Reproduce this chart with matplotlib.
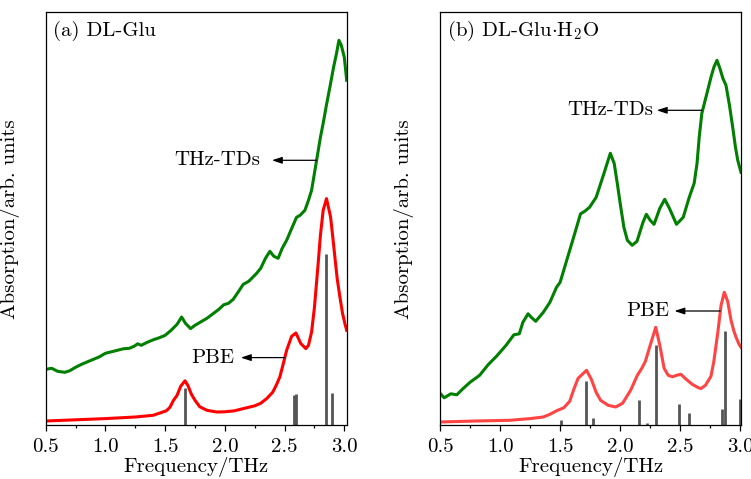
import matplotlib
matplotlib.use("Agg")
import matplotlib.pyplot as plt
import numpy as np

plt.rcParams['font.family'] = ['cmr10', 'DejaVu Serif']
plt.rcParams['mathtext.fontset'] = 'cm'
plt.rcParams['axes.formatter.use_mathtext'] = True

# ---------------- data: panel (a) DL-Glu ----------------
a_thz_f = [0.50, 0.55, 0.60, 0.66, 0.70, 0.75, 0.80, 0.85, 0.90, 0.95, 1.00, 1.05,
           1.10, 1.15, 1.20, 1.24, 1.27, 1.30, 1.35, 1.40, 1.45, 1.50, 1.55, 1.60,
           1.638, 1.67, 1.713, 1.75, 1.80, 1.85, 1.90, 1.95, 1.99, 2.03, 2.07, 2.11,
           2.154, 2.20, 2.266, 2.30, 2.34, 2.377, 2.41, 2.446, 2.48, 2.517, 2.56,
           2.60, 2.63, 2.67, 2.70, 2.726, 2.768, 2.80, 2.823, 2.85, 2.879, 2.91,
           2.935, 2.955, 2.975, 3.00, 3.02]
a_thz_y = [56, 57, 54, 53, 54.5, 58, 61, 63.5, 66, 68.5, 72, 73.5,
           75, 76.5, 77, 79, 81.5, 80, 83, 85.5, 87.5, 90, 95, 101,
           108.3, 102, 96.7, 100, 103.5, 107, 111.5, 116, 120.5, 122, 126, 133,
           141, 144, 152, 157, 167, 174, 169, 167, 177, 185, 197,
           208, 210, 215, 225, 235, 265, 288, 302, 320, 338, 358,
           372, 385, 380, 368, 345]

a_pbe_f = [0.50, 0.75, 1.00, 1.25, 1.40, 1.51, 1.54, 1.57, 1.60, 1.63, 1.666, 1.69,
           1.72, 1.75, 1.79, 1.85, 1.93, 2.00, 2.08, 2.154, 2.25, 2.30, 2.35, 2.40,
           2.43, 2.46, 2.49, 2.517, 2.559, 2.595, 2.636, 2.678, 2.70, 2.726, 2.75,
           2.781, 2.80, 2.823, 2.851, 2.885, 2.90, 2.921, 2.94, 2.963, 2.985, 3.005, 3.02]
a_pbe_y = [4.3, 5.5, 6.7, 8.3, 10, 14.5, 18, 25, 30, 39, 44.5, 40,
           31, 25, 18.5, 15, 13.3, 13.5, 14.5, 16.7, 19.5, 22, 26.7, 33,
           40, 48.3, 62, 75, 89, 92.3, 81.7, 76.7, 80, 93.3, 118,
           161.7, 190, 215, 226.7, 208.3, 192, 168.3, 147, 128.3, 112, 101.7, 95]

a_stick_f = [1.666, 2.58, 2.595, 2.846, 2.893]
a_stick_y = [37, 30, 31, 171, 32]

# ---------------- data: panel (b) DL-Glu·H2O ----------------
b_thz_f = [0.50, 0.535, 0.59, 0.64, 0.69, 0.75, 0.83, 0.90, 0.97, 1.05, 1.115, 1.16,
           1.19, 1.233, 1.26, 1.297, 1.36, 1.415, 1.47, 1.50, 1.555, 1.61, 1.67,
           1.705, 1.745, 1.80, 1.86, 1.918, 1.95, 1.976, 2.00, 2.031, 2.06, 2.10,
           2.14, 2.19, 2.218, 2.25, 2.282, 2.33, 2.371, 2.41, 2.469, 2.525, 2.575,
           2.616, 2.64, 2.658, 2.68, 2.714, 2.756, 2.78, 2.806, 2.83, 2.855, 2.881,
           2.91, 2.937, 2.96, 2.979, 3.006]
b_thz_y = [32, 27.5, 31.5, 30.5, 36.5, 43, 50, 60.5, 69, 80, 90.5, 91.5,
           103, 111.5, 108, 104, 113, 123, 138, 143, 165, 187, 211.5,
           214, 218, 228, 250, 272, 262, 242, 222, 198, 185, 180,
           184, 203, 211, 205, 201, 217, 226, 217, 201, 208, 228,
           242, 262, 288, 312, 328, 348, 358, 365, 357, 347, 340,
           320, 298, 278, 265, 253]

b_pbe_f = [0.50, 0.80, 1.08, 1.25, 1.36, 1.415, 1.47, 1.53, 1.58, 1.614, 1.65, 1.72,
           1.76, 1.80, 1.837, 1.90, 1.962, 2.02, 2.087, 2.143, 2.18, 2.21, 2.25,
           2.296, 2.33, 2.366, 2.40, 2.436, 2.47, 2.505, 2.55, 2.60, 2.644, 2.672,
           2.71, 2.756, 2.78, 2.812, 2.84, 2.867, 2.895, 2.923, 2.945, 2.965, 2.99, 3.006]
b_pbe_y = [3.3, 4.3, 5, 6.7, 8.3, 11, 14.5, 17.5, 24, 36, 47, 55,
           46, 33, 25, 20, 18.3, 22, 35, 50, 57, 64, 80,
           98, 80, 57, 50, 48.5, 50, 51, 46, 41, 38, 36.7,
           40, 49, 64, 92, 120, 133, 124, 105, 95, 88, 81, 78]

b_stick_f = [1.508, 1.714, 1.772, 2.157, 2.221, 2.296, 2.491, 2.574, 2.845, 2.873, 2.998]
b_stick_y = [5, 44, 7, 25, 2.5, 80.5, 21.5, 12.5, 16, 94, 26]

xticks = [0.5, 1.0, 1.5, 2.0, 2.5, 3.0]
xtick_labels = ['0.5', '1.0', '1.5', '2.0', '2.5', '3.0']

# ---------------- figure ----------------
W, H = 751, 479
fig = plt.figure(figsize=(W / 100, H / 100), dpi=100)

ax_a = fig.add_axes([45.7 / W, 1 - 425.3 / H, 301 / W, 413 / H])
ax_b = fig.add_axes([440 / W, 1 - 425.3 / H, 301 / W, 413 / H])

green = '#007f00'
fs = 15


def style(ax, xmax):
    ax.set_xlim(0.5, xmax)
    ax.set_ylim(0, 413)
    ax.set_yticks([])
    ax.set_xticks(xticks)
    ax.set_xticklabels(xtick_labels)
    ax.set_xticks([0.75, 1.25, 1.75, 2.25, 2.75], minor=True)
    ax.tick_params(axis='x', which='major', direction='out', length=4, width=0.9,
                   labelsize=fs, pad=5)
    ax.tick_params(axis='x', which='minor', direction='out', length=2, width=0.9)
    for s in ax.spines.values():
        s.set_linewidth(0.9)
    ax.set_xlabel('Frequency/THz', fontsize=fs)
    ax.xaxis.set_label_coords(0.5, -0.077)
    ax.set_ylabel('Absorption/arb. units', fontsize=fs)
    ax.yaxis.set_label_coords(-0.085, 0.5)


# panel (a)
style(ax_a, 3.02)
ax_a.vlines(a_stick_f, 0, a_stick_y, colors='#555555', linewidth=2.0)
ax_a.plot(a_thz_f, a_thz_y, color=green, lw=2.2, solid_joinstyle='round')
ax_a.plot(a_pbe_f, a_pbe_y, color='#ff0000', lw=2.2, solid_joinstyle='round')
ax_a.text(0.024, 0.955, '(a) DL-Glu', transform=ax_a.transAxes, fontsize=fs,
          ha='left', va='center')
arrow = dict(arrowstyle='-|>,head_length=0.6,head_width=0.2', color='black', lw=0.9,
             shrinkA=0, shrinkB=0)
ax_a.text(2.30, 265, 'THz-TDs', fontsize=fs, ha='right', va='center')
ax_a.annotate('', xy=(2.394, 265), xytext=(2.768, 265), arrowprops=arrow)
ax_a.text(2.078, 67.7, 'PBE', fontsize=fs, ha='right', va='center')
ax_a.annotate('', xy=(2.134, 67.7), xytext=(2.502, 67.7), arrowprops=arrow)

# panel (b)
style(ax_b, 3.006)
ax_b.vlines(b_stick_f, 0, b_stick_y, colors='#555555', linewidth=2.0)
ax_b.plot(b_thz_f, b_thz_y, color=green, lw=2.2, solid_joinstyle='round')
ax_b.plot(b_pbe_f, b_pbe_y, color='#ff4444', lw=2.2, solid_joinstyle='round')
ax_b.text(0.024, 0.955, r'(b) DL-Glu$\cdot$H$_2$O', transform=ax_b.transAxes,
          fontsize=fs, ha='left', va='center')
ax_b.text(2.277, 315, 'THz-TDs', fontsize=fs, ha='right', va='center')
ax_b.annotate('', xy=(2.305, 315), xytext=(2.681, 315), arrowprops=arrow)
ax_b.text(2.407, 114.3, 'PBE', fontsize=fs, ha='right', va='center')
ax_b.annotate('', xy=(2.452, 114.3), xytext=(2.833, 114.3), arrowprops=arrow)

fig.savefig('out.png', dpi=100)
